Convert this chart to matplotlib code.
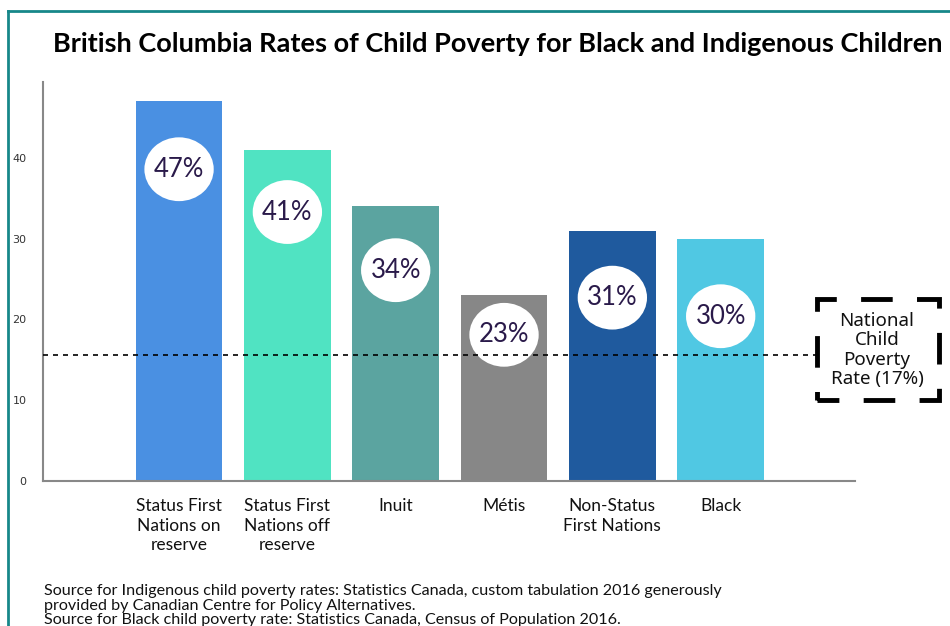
import numpy as np
import matplotlib.pyplot as plt
from matplotlib.patches import Ellipse, Rectangle
from matplotlib.lines import Line2D

# data
categories = ["Status First\nNations on\nreserve", "Status First\nNations off\nreserve",
              "Inuit", "Métis", "Non-Status\nFirst Nations", "Black"]
rates = [47, 41, 34, 23, 31, 30]
labels = ["47%", "41%", "34%", "23%", "31%", "30%"]
national_line = 15.6
national_label = "National\nChild\nPoverty\nRate (17%)"

colors = ["#4a90e2", "#50e3c2", "#5ba4a0", "#878787", "#1f5a9e", "#50c8e3"]
label_y = [38.6, 33.3, 26.1, 18.1, 22.7, 20.4]

fig = plt.figure(figsize=(9.5, 6.26), dpi=100)
ax = fig.add_axes([43/950, 1-481/626, (855-43)/950, (481-82)/626])

x = np.arange(len(categories))
ax.bar(x, rates, width=0.8, color=colors, zorder=2)

for xi, yi, lab in zip(x, label_y, labels):
    ax.add_patch(Ellipse((xi, yi), 0.64, 7.9, facecolor="white", edgecolor="none", zorder=3))
    ax.text(xi, yi, lab, ha="center", va="center", fontsize=18.5, family="Lato",
            color="#2a1a4a", zorder=4)

ax.axhline(national_line, color="black", ls=(0, (3, 3)), lw=1.2, zorder=5)

ax.set_xlim(-1.256, 6.24)
ax.set_ylim(0, 49.4)
ax.set_yticks([0, 10, 20, 30, 40])
ax.set_xticks(x)
ax.set_xticklabels(categories, fontsize=12.5, family="Lato", color="#111111",
                   linespacing=1.3)
ax.tick_params(axis="both", length=0)
ax.tick_params(axis="y", labelsize=8, labelcolor="#333333", pad=12)
ax.tick_params(axis="x", pad=12)
for s in ["top", "right"]:
    ax.spines[s].set_visible(False)
for s in ["left", "bottom"]:
    ax.spines[s].set_color("#888888")
    ax.spines[s].set_linewidth(1.5)

# national rate box (white fill hides the dashed line behind it)
fig.add_artist(Rectangle((817/950, 1-400/626), 122/950, 101/626, transform=fig.transFigure,
                         facecolor="white", edgecolor="black", lw=3.5, ls=(2, (6.5, 5))))
fig.text(877/950, 1-350/626, national_label, ha="center", va="center", fontsize=13.5,
         family="Noto Sans", color="#111111", linespacing=1.08)

fig.text(498/950, 1-44/626, "British Columbia Rates of Child Poverty for Black and Indigenous Children",
         ha="center", va="center", fontsize=19.5, family="Lato", weight="bold")

fig.text(44/950, 1-584/626,
         "Source for Indigenous child poverty rates: Statistics Canada, custom tabulation 2016 generously\n"
         "provided by Canadian Centre for Policy Alternatives.\n"
         "Source for Black child poverty rate: Statistics Canada, Census of Population 2016.",
         ha="left", va="top", fontsize=11.6, family="Lato", color="#111111", linespacing=1.05)

# teal frame
fig.add_artist(Line2D([8/950, 8/950], [0, 1-11/626], transform=fig.transFigure,
                      color="#17878a", lw=2))
fig.add_artist(Line2D([8/950, 1], [1-11/626, 1-11/626], transform=fig.transFigure,
                      color="#17878a", lw=2))

fig.savefig("out.png", dpi=100)
